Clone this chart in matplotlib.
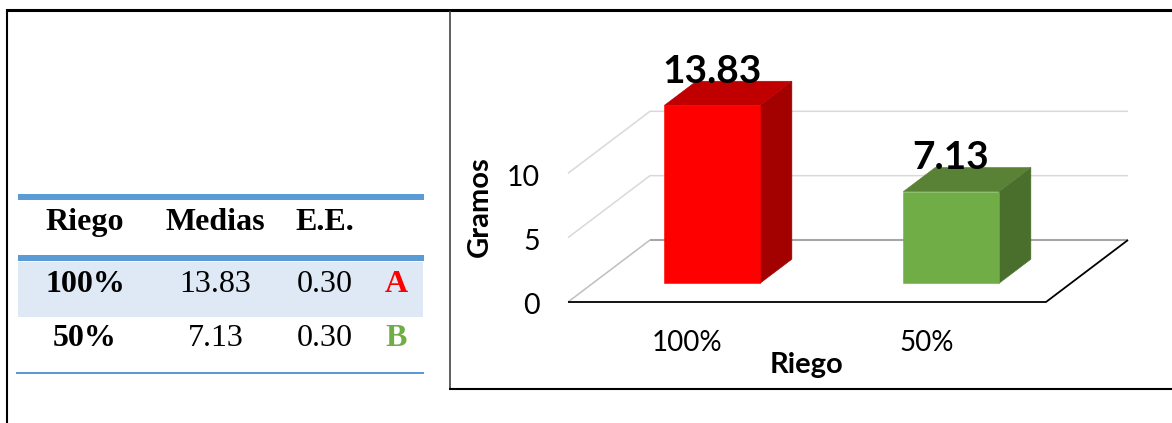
import matplotlib
matplotlib.use('Agg')
import matplotlib.pyplot as plt
from matplotlib.patches import Rectangle
from matplotlib.transforms import ScaledTranslation

# riego table and chart values
riego = ['100%', '50%']
medias = [13.83, 7.13]
errores = ['0.30', '0.30']
letras = ['A', 'B']
encabezados = ['Riego', 'Medias', 'E.E.']
ticks_y = [0, 5, 10]

ROJO = ('#FF0000', '#C00000', '#A30000')
VERDE = ('#70AD47', '#5A8237', '#4A6E2B')
colores = [ROJO, VERDE]
AZUL = '#5B9BD5'

W, H = 1172, 423
fig = plt.figure(figsize=(W / 100, H / 100), dpi=100, facecolor='white')

# page layer in pixels: frames and the table
page = fig.add_axes([0, 0, 1, 1])
page.set_xlim(0, W)
page.set_ylim(H, 0)
page.axis('off')

page.plot([7, 7], [9, H], color='black', lw=1.5, solid_capstyle='butt')
page.plot([6, W], [10.5, 10.5], color='black', lw=2.2, solid_capstyle='butt')
page.plot([449.5, 449.5], [11, 389], color='#444444', lw=1.2, solid_capstyle='butt')
page.plot([449, W], [389, 389], color='black', lw=1.5, solid_capstyle='butt')

page.add_patch(Rectangle((18, 262), 405, 55, fc='#DEE9F5', ec='none'))
page.add_patch(Rectangle((18, 194), 406, 6, fc=AZUL, ec='none'))
page.add_patch(Rectangle((18, 255), 406, 6, fc=AZUL, ec='none'))
page.add_patch(Rectangle((16, 372), 408, 2, fc=AZUL, ec='none'))

serif = dict(family='Liberation Serif', fontsize=23, ha='center', va='baseline')
col_x = [85, 215.5, 325, 396]
for x, t in zip(col_x, encabezados):
    page.text(x, 230, t, fontweight='bold', **serif)
fila_y = [292, 346]
for i, y in enumerate(fila_y):
    page.text(col_x[0], y, riego[i], fontweight='bold', **serif)
    page.text(col_x[1], y, f'{medias[i]:.2f}', **serif)
    page.text(col_x[2], y, errores[i], **serif)
    page.text(col_x[3], y, letras[i], fontweight='bold', color=colores[i][0], **serif)

# chart axes, floor runs from x=0 to x=2 and y is in gramos
px_x = 239.0
px_y = 12.87
ax = fig.add_axes([568 / W, (H - 302) / H, 560 / W, 242 / H])
ax.set_xlim(0, 560 / px_x)
ax.set_ylim(0, 242 / px_y)
ax.patch.set_alpha(0)
for s in ax.spines.values():
    s.set_visible(False)

# oblique depth: d=1 is the back of the floor
dx = 82 / px_x
dy = 62 / px_y


def proj(x, d, v):
    return x + dx * d, v + dy * d


def cara(puntos, color, z):
    xs, ys = zip(*[proj(*p) for p in puntos])
    ax.fill(xs, ys, color=color, lw=0.4, zorder=z, clip_on=False)


def linea(puntos, color, lw, z=1):
    xs, ys = zip(*[proj(*p) for p in puntos])
    ax.plot(xs, ys, color=color, lw=lw, zorder=z, clip_on=False, solid_capstyle='butt')


# walls and floor
for v in ticks_y[1:]:
    linea([(0, 0, v), (0, 1, v), (2, 1, v)], '#D9D9D9', 1.1)
linea([(0, 0, 0), (0, 1, 0)], '#BFBFBF', 1.1)
linea([(0, 1, 0), (2, 1, 0)], '#A6A6A6', 1.5)
linea([(0, 0, 0), (2, 0, 0), (2, 1, 0)], 'black', 1.3, z=2)

# 3d bars
ancho = 0.2
d0, d1 = 0.30, 0.69
for i, v in enumerate(medias):
    c = i + 0.5
    a, b = c - ancho, c + ancho
    frente, arriba, lado = colores[i]
    cara([(b, d0, 0), (b, d1, 0), (b, d1, v), (b, d0, v)], lado, 3)
    cara([(a, d0, v), (b, d0, v), (b, d1, v), (a, d1, v)], arriba, 3)
    cara([(a, d0, 0), (b, d0, 0), (b, d0, v), (a, d0, v)], frente, 4)
    ax.annotate(f'{v:.2f}', proj(c, d0, v), xytext=(0, 16), textcoords='offset points',
                ha='center', va='baseline', family='Lato', fontweight='bold',
                fontsize=28, zorder=6, annotation_clip=False)

ax.set_yticks(ticks_y)
ax.set_xticks([i + 0.5 for i in range(len(riego))])
ax.set_xticklabels(riego, family='Lato', fontsize=20)
ax.set_yticklabels([str(t) for t in ticks_y], family='Lato', fontsize=20.5)
ax.tick_params(length=0)
ax.tick_params(axis='x', pad=20)
ax.tick_params(axis='y', pad=20)

# tick text sits a little below its gridline
baja = ScaledTranslation(0, -2 / 100, fig.dpi_scale_trans)
for lab in ax.get_yticklabels():
    lab.set_transform(lab.get_transform() + baja)

page.text(807, 365.5, 'Riego', family='Lato', fontweight='bold', fontsize=21, ha='center', va='center')
page.text(479.5, 207, 'Gramos', family='Lato', fontweight='bold', fontsize=21, ha='center', va='center', rotation=90)

fig.savefig('out.png', dpi=100)
